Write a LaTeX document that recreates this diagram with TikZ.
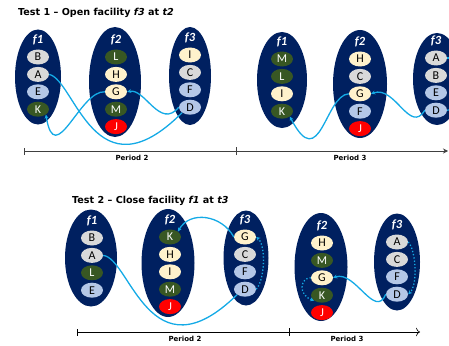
\documentclass[tikz,border=0pt]{standalone}
\usepackage{fontspec}
\setmainfont{Carlito}
\newfontfamily\verdfont{DejaVu Sans}
\usetikzlibrary{positioning,shapes.geometric,arrows.meta}
\definecolor{navy}{RGB}{0,32,96}
\definecolor{cgrey}{RGB}{217,217,217}
\definecolor{cblue}{RGB}{180,199,231}
\definecolor{ccream}{RGB}{255,242,204}
\definecolor{cgreen}{RGB}{56,87,35}
\definecolor{cred}{RGB}{255,0,0}
\definecolor{flowc}{RGB}{20,170,230}

\begin{document}
\begin{tikzpicture}[x=1pt,y=-1pt,node distance=2pt,
	fac/.style={
	  ellipse,
	  fill=navy,
	  inner sep=0pt
	},
	flab/.style={
	  text=white,
	  inner sep=0pt,
	  font=\bfseries\itshape\fontsize{12.5}{12.5}\selectfont
	},
	cust/.style={
	  ellipse,
	  minimum width=22pt,
	  minimum height=15pt,
	  inner sep=0pt,
	  font=\fontsize{12}{12}\selectfont
	},
	gcust/.style={cust,fill=cgrey},
	bcust/.style={cust,fill=cblue},
	ycust/.style={cust,fill=ccream},
	dcust/.style={cust,fill=cgreen,text=white},
	rcust/.style={cust,fill=cred,text=white},
	flow/.style={draw=flowc,line width=1.3pt},
	flowd/.style={flow,dotted},
	flowarr/.style={-{Stealth[length=4pt,width=4pt]}},
	axis/.style={draw=black!75,line width=1pt},
	title/.style={anchor=west,inner sep=0pt,font=\verdfont\bfseries\fontsize{9.6}{9.6}\selectfont},
	period/.style={inner sep=0pt,font=\verdfont\bfseries\fontsize{7}{7}\selectfont}]

	\useasboundingbox (0,0) rectangle (449,345);
	\clip (0,0) rectangle (449,345);

	% Test 1
	\node[title] (TestOne) at (18,13) {Test 1 – Open facility \textit{f3} at \textit{t2}};

	\node[fac,minimum width=46pt,minimum height=95pt] (aF1) at (38,77) {};
	\node[fac,minimum width=52pt,minimum height=110pt] (aF2) at (115,82) {};
	\node[fac,minimum width=42pt,minimum height=98pt] (aF3) at (190,76) {};

	\node[gcust] (aB) at (38,57) {B};
	\node[gcust,below=of aB] (aA) {A};
	\node[bcust,below=of aA] (aE) {E};
	\node[dcust,below=of aE] (aK) {K};
	\node[flab,above=4pt of aB] (aF1l) {f1};

	\node[dcust] (aL) at (116,57) {L};
	\node[ycust,below=of aL] (aH) {H};
	\node[ycust,below=of aH] (aG) {G};
	\node[dcust,below=of aG] (aM) {M};
	\node[rcust,below=of aM] (aJ) {J};
	\node[flab,above=4pt of aL] (aF2l) {f2};

	\node[ycust] (aI) at (190,55) {I};
	\node[gcust,below=of aI] (aC) {C};
	\node[bcust,below=of aC] (aF) {F};
	\node[bcust,below=of aF] (aD) {D};
	\node[flab,above=4pt of aI] (aF3l) {f3};

	\node[fac,minimum width=50pt,minimum height=96pt] (bF1) at (282,80) {};
	\node[fac,minimum width=54pt,minimum height=108pt] (bF2) at (360,84) {};
	\node[fac,minimum width=48pt,minimum height=92pt] (bF3) at (437,79) {};

	\node[dcust] (bM) at (282,59) {M};
	\node[dcust,below=of bM] (bL) {L};
	\node[ycust,below=of bL] (bI) {I};
	\node[dcust,below=of bI] (bK) {K};
	\node[flab,above=4pt of bM] (bF1l) {f1};

	\node[ycust] (bH) at (360,59) {H};
	\node[gcust,below=of bH] (bC) {C};
	\node[ycust,below=of bC] (bG) {G};
	\node[bcust,below=of bG] (bF) {F};
	\node[rcust,below=of bF] (bJ) {J};
	\node[flab,above=4pt of bH] (bF2l) {f2};

	\node[gcust] (bA) at (436,58) {A};
	\node[gcust,below=of bA] (bB) {B};
	\node[bcust,below=of bB] (bE) {E};
	\node[bcust,below=of bE] (bD) {D};
	\node[flab,above=4pt of bA] (bF3l) {f3};

	\draw[flow] (aA.east) .. controls (75,80) and (95,200) .. (aD.south west);
	\draw[flow,flowarr] (aG.west) .. controls (80,90) and (55,170) .. (aK.south east);
	\draw[flow,flowarr] (aD.west) .. controls (160,130) and (145,88) .. (aG.east);
	\draw[flow,flowarr] (bG.west) .. controls (325,95) and (320,175) .. (bK.south east);
	\draw[flow,flowarr] (bD.west) .. controls (410,135) and (395,85) .. (bG.east);
	\coordinate (bOffA) at (456,58);
	\coordinate (bOffD) at (456,109);
	\draw[flow] (bA.east) -- (bOffA);
	\draw[flow] (bD.east) -- (bOffD);

	\coordinate (AxisOneStart) at (24,151);
	\coordinate (AxisOneMid) at (236,151);
	\coordinate (AxisOneEnd) at (448,151);
	\draw[axis,{Bar[width=7pt]}-{Stealth[length=5pt,width=5pt]}] (AxisOneStart) -- (AxisOneEnd);
	\draw[axis,line width=0.6pt] ([yshift=-4pt]AxisOneMid) -- ([yshift=4pt]AxisOneMid);
	\node[period] (PerOneA) at (132,158) {Period 2};
	\node[period] (PerOneB) at (350,158) {Period 3};

	% Test 2
	\node[title] (TestTwo) at (72,201) {Test 2 – Close facility \textit{f1} at \textit{t3}};

	\node[fac,minimum width=52pt,minimum height=97pt] (cF1) at (91,258) {};
	\node[fac,minimum width=53pt,minimum height=108pt] (cF2) at (168,263) {};
	\node[fac,minimum width=45pt,minimum height=95pt] (cF3) at (246,258) {};

	\node[gcust] (cB) at (92,238) {B};
	\node[gcust,below=of cB] (cA) {A};
	\node[dcust,below=of cA] (cL) {L};
	\node[bcust,below=of cL] (cE) {E};
	\node[flab,above=4pt of cB] (cF1l) {f1};

	\node[dcust] (cK) at (170,237) {K};
	\node[ycust,below=of cK] (cH) {H};
	\node[ycust,below=of cH] (cI) {I};
	\node[dcust,below=of cI] (cM) {M};
	\node[rcust,below=of cM] (cJ) {J};
	\node[flab,above=4pt of cK] (cF2l) {f2};

	\node[ycust] (cG) at (245,237) {G};
	\node[gcust,below=of cG] (cC) {C};
	\node[bcust,below=of cC] (cF) {F};
	\node[bcust,below=of cF] (cD) {D};
	\node[flab,above=4pt of cG] (cF3l) {f3};

	\node[fac,minimum width=53pt,minimum height=108pt] (dF2) at (321,267) {};
	\node[fac,minimum width=46pt,minimum height=97pt] (dF3) at (397,262) {};

	\node[ycust] (dH) at (322,243) {H};
	\node[dcust,below=of dH] (dM) {M};
	\node[ycust,below=of dM] (dG) {G};
	\node[dcust,below=of dG] (dK) {K};
	\node[rcust,below=of dK] (dJ) {J};
	\node[flab,above=4pt of dH] (dF2l) {f2};

	\node[gcust] (dA) at (397,242) {A};
	\node[gcust,below=of dA] (dC) {C};
	\node[bcust,below=of dC] (dF) {F};
	\node[bcust,below=of dF] (dD) {D};
	\node[flab,above=4pt of dA] (dF3l) {f3};

	\draw[flow] (cA.east) .. controls (130,258) and (150,380) .. (cD.south west);
	\draw[flow,flowarr] (cG.west) .. controls (222,215) and (190,210) .. (cK.north east);
	\draw[flowd,flowarr] (cD.east) .. controls (265,280) and (266,245) .. (cG.east);
	\draw[flowd,flowarr] (dG.west) .. controls (300,278) and (298,295) .. (dK.south west);
	\draw[flow,flowarr] (dD.west) .. controls (375,320) and (355,270) .. (dG.east);
	\draw[flowd,flowarr] (dA.east) .. controls (416,250) and (418,285) .. (dD.east);

	\coordinate (AxisTwoStart) at (77,332);
	\coordinate (AxisTwoMid) at (289,332);
	\coordinate (AxisTwoEnd) at (420,332);
	\draw[axis,draw=black,line width=0.6pt,{Bar[width=7pt]}-{To[length=4pt]}] (AxisTwoStart) -- (AxisTwoEnd);
	\draw[axis,draw=black,line width=0.8pt] ([yshift=-4pt]AxisTwoMid) -- ([yshift=4pt]AxisTwoMid);
	\node[period] (PerTwoA) at (185,339) {Period 2};
	\node[period] (PerTwoB) at (347,339) {Period 3};
\end{tikzpicture}
\end{document}
